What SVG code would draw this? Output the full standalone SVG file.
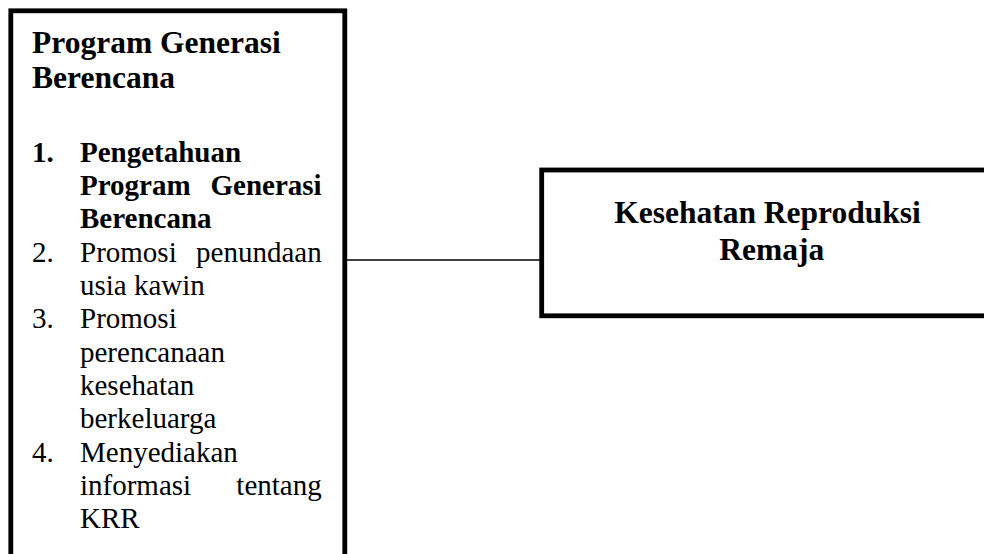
<svg xmlns="http://www.w3.org/2000/svg" width="984" height="554" viewBox="0 0 984 554">
<style>
.box{fill:#fff;stroke:#000;stroke-width:4.8}
.conn{stroke:#000;stroke-width:1.6;fill:none}
.t{font-family:"Liberation Serif","Times New Roman",serif;fill:#000}
.h{font-size:31.5px;font-weight:bold}
.b{font-size:29px;font-weight:bold}
.r{font-size:29px}
</style>
<g id="connectors">
<line class="conn" x1="347" y1="260" x2="540" y2="260"/>
</g>
<g id="node-program">
<rect class="box" x="10.8" y="10.8" width="334" height="560"/>
<text class="t h" x="32" y="53.3">Program Generasi</text>
<text class="t h" x="32" y="88.3">Berencana</text>
<text class="t b" x="32" y="161.7">1.</text>
<text class="t b" x="80" y="161.7">Pengetahuan</text>
<text class="t b" x="80" y="195">Program</text>
<text class="t b" x="321.7" y="195" text-anchor="end">Generasi</text>
<text class="t b" x="80" y="228.3">Berencana</text>
<text class="t r" x="32" y="261.7">2.</text>
<text class="t r" x="80" y="261.7">Promosi</text>
<text class="t r" x="321.7" y="261.7" text-anchor="end">penundaan</text>
<text class="t r" x="80" y="295">usia kawin</text>
<text class="t r" x="32" y="328.3">3.</text>
<text class="t r" x="80" y="328.3">Promosi</text>
<text class="t r" x="80" y="361.7">perencanaan</text>
<text class="t r" x="80" y="395">kesehatan</text>
<text class="t r" x="80" y="428.3">berkeluarga</text>
<text class="t r" x="32" y="461.7">4.</text>
<text class="t r" x="80" y="461.7">Menyediakan</text>
<text class="t r" x="80" y="495">informasi</text>
<text class="t r" x="321.7" y="495" text-anchor="end">tentang</text>
<text class="t r" x="80" y="528.3">KRR</text>
</g>
<g id="node-krr">
<rect class="box" x="541.7" y="170" width="460" height="145.8"/>
<text class="t h" x="767.5" y="223.3" text-anchor="middle">Kesehatan Reproduksi</text>
<text class="t h" x="771.7" y="260" text-anchor="middle">Remaja</text>
</g>
</svg>
